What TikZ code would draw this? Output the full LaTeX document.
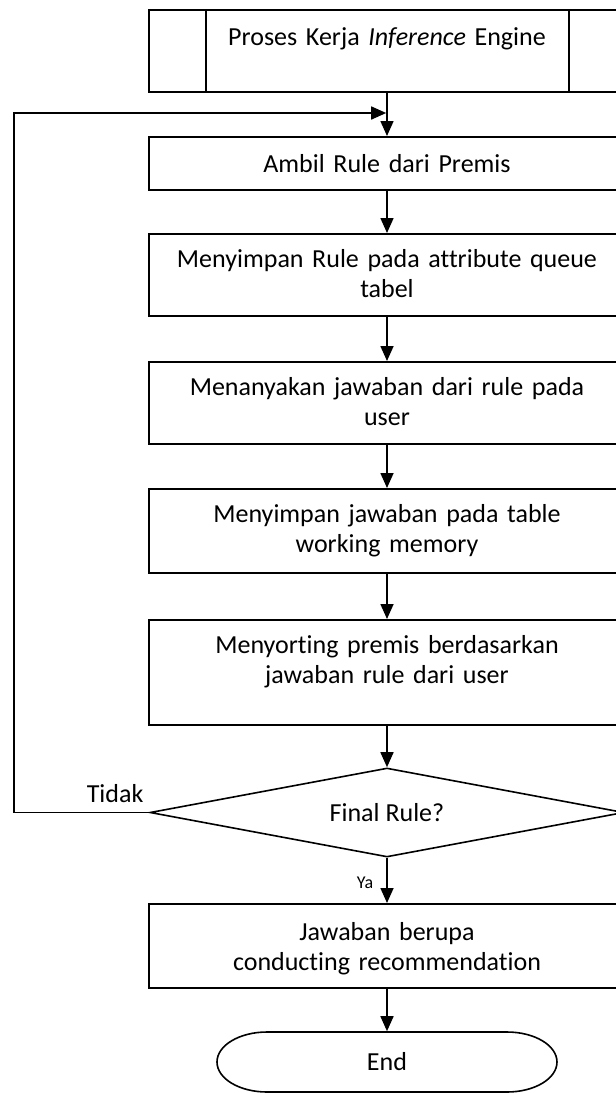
\documentclass[tikz,border=0pt]{standalone}
\usepackage{fontspec}
\setmainfont{Carlito}[Ligatures=NoCommon]
\usetikzlibrary{arrows.meta,shapes.geometric}
\begin{document}
\begin{tikzpicture}[x=1pt,y=-1pt,
  line width=1.6pt,
  every node/.style={font=\fontsize{26}{30}\selectfont},
  proc/.style={draw, rectangle, inner sep=0pt, text width=476pt, align=center,
               anchor=north, text height=34pt},
  decision/.style={draw, diamond, inner sep=0pt, minimum width=474pt,
                   minimum height=89pt, shape aspect=5.3},
  terminal/.style={rectangle, inner sep=0pt, minimum width=340pt, minimum height=60pt},
  flow/.style={-{Triangle[length=15pt,width=13pt]}},
  tag/.style={inner sep=0pt}
]
\useasboundingbox (0,0) rectangle (616,1093);
\clip (0,0) rectangle (616,1093);

% predefined process header
\node[proc, text height=36pt, text depth=46pt] (top) at (387,9)
  {Proses Kerja \textit{Inference} Engine};
\draw ([xshift=58pt]top.north west) -- ([xshift=58pt]top.south west);
\draw ([xshift=-57pt]top.north east) -- ([xshift=-57pt]top.south east);

% process steps
\node[proc, text height=36pt, text depth=17pt] (b2) at (387,136) {Ambil Rule dari Premis};
\node[proc, text depth=48pt] (b3) at (387,233) {Menyimpan Rule pada attribute queue\\tabel};
\node[proc, text depth=48pt] (b4) at (387,361) {Menanyakan jawaban dari rule pada\\user};
\node[proc, text depth=50pt] (b5) at (387,488) {Menyimpan jawaban pada table\\working memory};
\node[proc, text depth=71pt] (b6) at (387,619) {Menyorting premis berdasarkan\\jawaban rule dari user};

% decision
\node[decision] (dec) at (387,812.5) {Final Rule?};

% result
\node[proc, text height=37pt, text depth=47pt] (b7) at (387,903) {Jawaban berupa\\conducting recommendation};

% terminal: straight top and bottom with half-elliptic ends
\node[terminal] (endn) at (387,1062) {End};
\draw (267,1032) -- (507,1032)
  .. controls (534.6,1032) and (557,1045.4) .. (557,1062)
  .. controls (557,1078.6) and (534.6,1092) .. (507,1092)
  -- (267,1092)
  .. controls (239.4,1092) and (217,1078.6) .. (217,1062)
  .. controls (217,1045.4) and (239.4,1032) .. (267,1032) -- cycle;

% connectors
\draw[flow] (top.south) -- (b2.north);
\draw[flow] (b2.south) -- (b3.north);
\draw[flow] (b3.south) -- (b4.north);
\draw[flow] (b4.south) -- (b5.north);
\draw[flow] (b5.south) -- (b6.north);
\draw[flow] (b6.south) -- (dec.north);
\draw[flow] (dec.south) -- (b7.north);
\draw[flow] (b7.south) -- (endn.north);

% loop back on "Tidak"
\coordinate (loopc) at (14,113);
\draw[flow, shorten >=0.8pt] (dec.west) -| (loopc) -- (top.south |- loopc);

% branch labels
\node[tag, anchor=base west] (tidak) at (86,802) {Tidak};
\node[tag, anchor=base east, font=\fontsize{18}{20}\selectfont] (ya) at (374,888) {Ya};
\end{tikzpicture}
\end{document}
